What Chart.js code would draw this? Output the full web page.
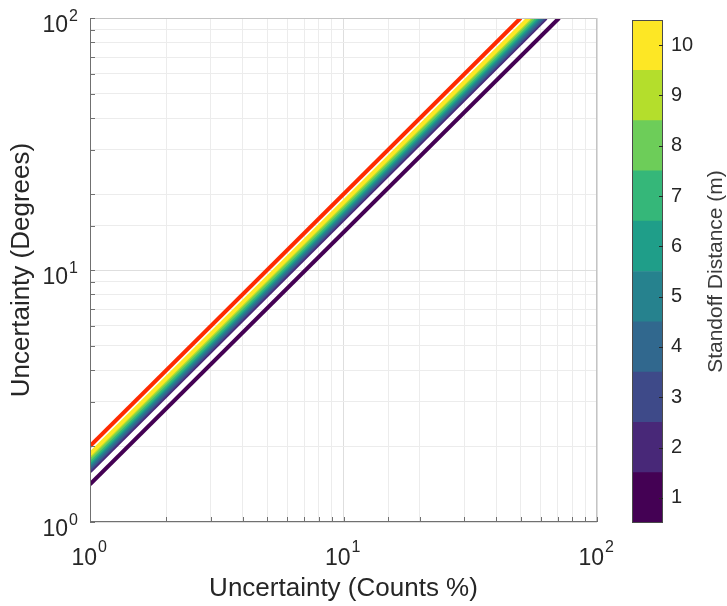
<!DOCTYPE html>
<html><head><meta charset="utf-8">
<script src="https://cdn.jsdelivr.net/npm/chart.js@4/dist/chart.umd.min.js"></script>
<style>
html,body{margin:0;padding:0;background:#fff;}
#wrap{position:relative;width:727px;height:606px;overflow:hidden;}
#main{position:absolute;left:0;top:0;}
#cbar{position:absolute;left:600px;top:0;}
</style></head><body>
<div id="wrap"><canvas id="main" width="727" height="606"></canvas><canvas id="cbar" width="127" height="606"></canvas></div>
<script>
// ---- data ----
const distances = [1, 2, 3, 4, 5, 6, 7, 8, 9, 10];
const distanceColors = ['#440154', '#482878', '#3e4a89', '#31688e', '#26828e', '#1f9e89', '#35b779', '#6dcd59', '#b4de2c', '#fde725'];
// uncertainty (degrees) at 1 % counts uncertainty, per standoff distance
const startDeg = [1.41, 1.59, 1.62, 1.65, 1.69, 1.72, 1.75, 1.79, 1.83, 1.86];
// counts % at which each line reaches 100 degrees
const endCounts = [70.9, 62.9, 61.7, 60.6, 59.2, 58.1, 57.1, 55.9, 54.6, 53.8];
// reference (red) line
const refStartDeg = 2.0;
const refEndCounts = 50.0;
const refColor = '#ff2a00';
// axis ticks
const majorTicks = [1, 10, 100];
const tickBase = '10';
const tickExponents = ['0', '1', '2'];
const xTitle = 'Uncertainty (Counts %)';
const yTitle = 'Uncertainty (Degrees)';
const cbarTitle = 'Standoff Distance (m)';

const FONT = '"Liberation Sans", Arial, Helvetica, sans-serif';
const TXT = '#262626';

// ---- main chart ----
const datasets = distances.map((d, i) => ({
  label: d + ' m',
  data: [{x: 1, y: startDeg[i]}, {x: endCounts[i], y: 100}],
  borderColor: distanceColors[i],
  borderWidth: 4,
  pointRadius: 0,
  fill: false,
  order: 11 - d
}));
datasets.push({
  label: 'ref',
  data: [{x: 1, y: refStartDeg}, {x: refEndCounts, y: 100}],
  borderColor: refColor,
  borderWidth: 4,
  pointRadius: 0,
  fill: false,
  order: 0
});

function isMajorVal(v) { const l = Math.log10(v); return Math.abs(l - Math.round(l)) < 1e-9; }
const gridColor = (c) => (c.tick && isMajorVal(c.tick.value)) ? '#dedede' : '#ececec';

const mainDecor = {
  id: 'mainDecor',
  afterDraw(chart) {
    const ctx = chart.ctx, a = chart.chartArea, xs = chart.scales.x, ys = chart.scales.y;
    ctx.save();
    // box
    ctx.lineWidth = 1;
    ctx.strokeStyle = '#c4c4c4';
    ctx.beginPath();
    ctx.moveTo(a.left, a.top + 0.5); ctx.lineTo(a.right - 0.5, a.top + 0.5); ctx.lineTo(a.right - 0.5, a.bottom);
    ctx.stroke();
    ctx.strokeStyle = '#707070';
    ctx.beginPath();
    ctx.moveTo(a.left + 0.5, a.top); ctx.lineTo(a.left + 0.5, a.bottom - 0.5); ctx.lineTo(a.right, a.bottom - 0.5);
    ctx.stroke();
    // inward ticks
    ctx.beginPath();
    xs.ticks.forEach(t => { const p = Math.round(xs.getPixelForValue(t.value)) + 0.5; ctx.moveTo(p, a.bottom); ctx.lineTo(p, a.bottom - 5); });
    ys.ticks.forEach(t => { const p = Math.round(ys.getPixelForValue(t.value)) + 0.5; ctx.moveTo(a.left, p); ctx.lineTo(a.left + 5, p); });
    ctx.stroke();
    // tick labels 10^n
    ctx.fillStyle = TXT;
    ctx.textBaseline = 'alphabetic';
    majorTicks.forEach((v, i) => {
      const px = xs.getPixelForValue(v);
      ctx.font = '23px ' + FONT; ctx.textAlign = 'right';
      ctx.fillText(tickBase, px + 7, 565);
      ctx.font = '16px ' + FONT; ctx.textAlign = 'left';
      ctx.fillText(tickExponents[i], px + 8, 552);
      const py = ys.getPixelForValue(v);
      ctx.font = '23px ' + FONT; ctx.textAlign = 'right';
      ctx.fillText(tickBase, 68, py + 14);
      ctx.font = '16px ' + FONT; ctx.textAlign = 'left';
      ctx.fillText(tickExponents[i], 69, py + 3);
    });
    ctx.restore();
  }
};

new Chart(document.getElementById('main'), {
  type: 'line',
  data: {datasets},
  options: {
    responsive: false,
    animation: false,
    layout: {padding: {left: 0, top: 18, right: 130, bottom: 0}},
    plugins: {legend: {display: false}, tooltip: {enabled: false}},
    scales: {
      x: {
        type: 'logarithmic', min: 1, max: 100,
        ticks: {autoSkip: false, maxRotation: 0, callback: () => ''},
        grid: {color: gridColor, drawTicks: false, lineWidth: 1},
        border: {display: false},
        title: {display: true, text: xTitle, color: TXT, font: {family: FONT, size: 26}, padding: {top: 0, bottom: 2}},
        afterFit(s) { s.height = 84; }
      },
      y: {
        type: 'logarithmic', min: 1, max: 100,
        ticks: {autoSkip: false, callback: () => ''},
        grid: {color: gridColor, drawTicks: false, lineWidth: 1},
        border: {display: false},
        title: {display: true, text: yTitle, color: TXT, font: {family: FONT, size: 26}, padding: {top: 6, bottom: 0}},
        afterFit(s) { s.width = 90; }
      }
    }
  },
  plugins: [mainDecor]
});

// ---- colorbar ----
const cbarDecor = {
  id: 'cbarDecor',
  afterDraw(chart) {
    const ctx = chart.ctx, a = chart.chartArea, ys = chart.scales.y;
    ctx.save();
    ctx.strokeStyle = '#4a4a4a'; ctx.lineWidth = 1;
    ctx.strokeRect(a.left + 0.5, a.top + 0.5, a.right - a.left - 1, a.bottom - a.top - 1);
    ctx.strokeStyle = '#262626';
    ctx.beginPath();
    distances.forEach(d => { const p = Math.round(ys.getPixelForValue(d)) + 0.5; ctx.moveTo(a.right, p); ctx.lineTo(a.right - 4, p); });
    ctx.stroke();
    ctx.fillStyle = '#3a3a3a';
    ctx.font = '21px ' + FONT;
    ctx.textAlign = 'center'; ctx.textBaseline = 'middle';
    ctx.translate(116, (a.top + a.bottom) / 2);
    ctx.rotate(-Math.PI / 2);
    ctx.fillText(cbarTitle, 0, 0);
    ctx.restore();
  }
};

new Chart(document.getElementById('cbar'), {
  type: 'bar',
  data: {
    labels: ['cb'],
    datasets: distances.map((d, i) => ({
      label: d + ' m',
      data: [[d - 0.5, d + 0.5]],
      backgroundColor: distanceColors[i],
      borderWidth: 0,
      grouped: false,
      barPercentage: 1,
      categoryPercentage: 1
    }))
  },
  options: {
    responsive: false,
    animation: false,
    layout: {padding: {left: 32, top: 18, right: 0, bottom: 83}},
    plugins: {legend: {display: false}, tooltip: {enabled: false}},
    scales: {
      x: {display: false},
      y: {
        position: 'right', min: 0.5, max: 10.5,
        afterBuildTicks(s) { s.ticks = distances.map(v => ({value: v})); },
        ticks: {color: TXT, font: {family: FONT, size: 20}, padding: 8},
        grid: {display: false, drawTicks: false},
        border: {display: false},
        afterFit(s) { s.width = 64; }
      }
    }
  },
  plugins: [cbarDecor]
});
</script>
</body></html>
